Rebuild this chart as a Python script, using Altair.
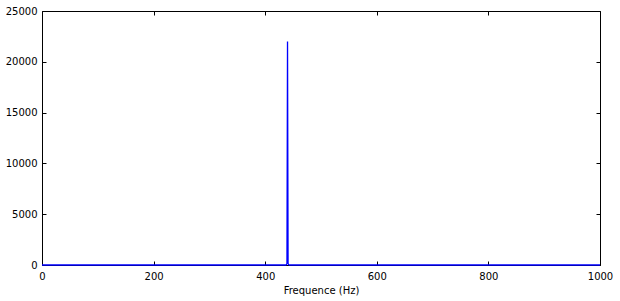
import altair as alt
import pandas as pd

# Spectrum: flat near zero except a single peak at 440 Hz
freq = [0, 437, 438, 439, 440, 441, 442, 443, 1000]
amp = [0, 0, 20, 150, 22000, 150, 20, 0, 0]

x_ticks = [0, 200, 400, 600, 800, 1000]
y_ticks = [0, 5000, 10000, 15000, 20000, 25000]

df = pd.DataFrame({"f": freq, "a": amp})

FONT = "DejaVu Sans"
inward = {"expr": "-4"}

xs = alt.Scale(domain=[0, 1000], nice=False, zero=False)
ys = alt.Scale(domain=[0, 25000], nice=False)

base = alt.Chart(df)

line = base.mark_line(color="#0000ff", strokeWidth=1.3).encode(
    x=alt.X("f:Q", scale=xs,
            axis=alt.Axis(values=x_ticks, title="Frequence (Hz)", orient="bottom",
                          format="d",
                          tickSize=inward, tickColor="black", tickWidth=1,
                          domain=False, grid=False, labelPadding=10,
                          labelFont=FONT, labelFontSize=10, labelColor="black",
                          titleFont=FONT, titleFontSize=10, titleFontWeight="normal",
                          titleColor="black", titlePadding=4, labelFlush=False)),
    y=alt.Y("a:Q", scale=ys,
            axis=alt.Axis(values=y_ticks, title=None, orient="left",
                          format="d",
                          tickSize=inward, tickColor="black", tickWidth=1,
                          domain=False, grid=False, labelPadding=9,
                          labelFont=FONT, labelFontSize=10, labelColor="black",
                          labelFlush=False)),
)

frame = base.mark_line(opacity=0).encode(
    x=alt.X("f:Q", scale=xs,
            axis=alt.Axis(values=x_ticks, title=None, orient="top", labels=False,
                          tickSize=inward, tickColor="black", tickWidth=1,
                          domain=False, grid=False)),
    y=alt.Y("a:Q", scale=ys,
            axis=alt.Axis(values=y_ticks, title=None, orient="right", labels=False,
                          tickSize=inward, tickColor="black", tickWidth=1,
                          domain=False, grid=False)),
)

chart = (
    alt.layer(frame, line)
    .resolve_axis(x="independent", y="independent")
    .properties(
        width=558,
        height=254,
        autosize=alt.AutoSizeParams(type="none"),
        padding={"left": 42, "top": 11, "right": 20, "bottom": 36},
        background="white",
    )
    .configure_view(stroke="black", strokeWidth=1)
)

chart.save("out.html", embed_options={"renderer": "svg", "actions": False})
